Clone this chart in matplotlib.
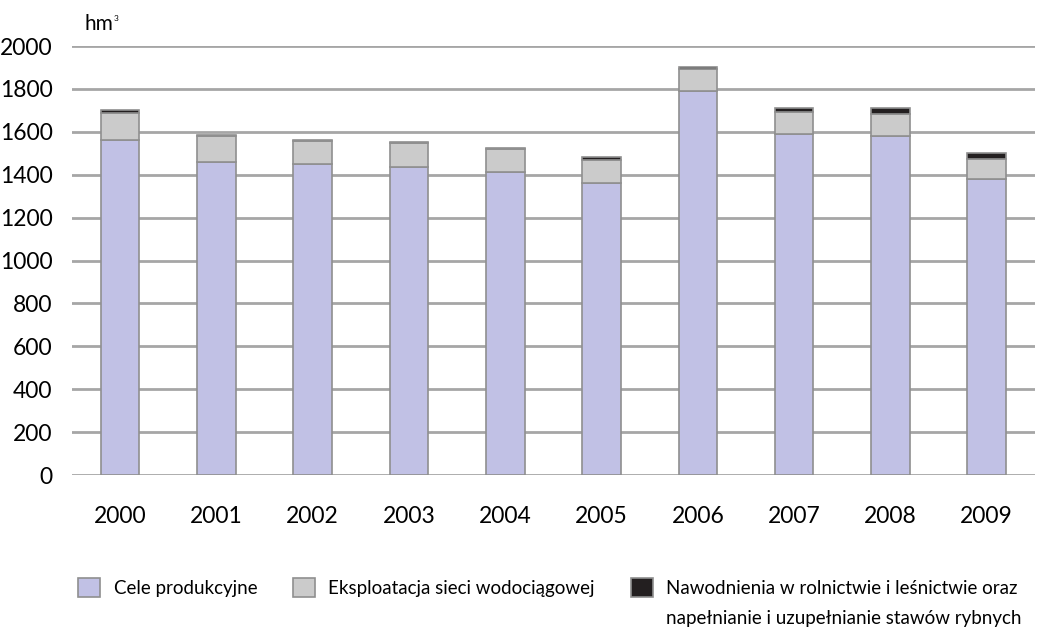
import matplotlib
matplotlib.use("Agg")
import matplotlib.pyplot as plt
import numpy as np

plt.rcParams['font.family'] = ['Lato', 'DejaVu Sans']

# hm3 per year
years = ['2000', '2001', '2002', '2003', '2004', '2005', '2006', '2007', '2008', '2009']
produkcja = [1562, 1459, 1450, 1438, 1414, 1363, 1789, 1591, 1579, 1380]
wodociagi = [124, 121, 105, 108, 104, 106, 104, 103, 106, 95]
nawodnienia = [16, 6, 7, 8, 8, 15, 10, 16, 25, 26]

labels = ['Cele produkcyjne',
          'Eksploatacja sieci wodociągowej',
          'Nawodnienia w rolnictwie i leśnictwie oraz']
label_cont = 'napełnianie i uzupełnianie stawów rybnych'
colors = ['#c1c1e5', '#cbcbcb', '#231f20']

fig = plt.figure(figsize=(10.39, 6.27), dpi=100)
ax = fig.add_axes([0.0693, 0.2424, 0.9267, 0.6842])

x = np.arange(len(years))
bottom = np.zeros(len(years))
handles = []
for vals, c, lab in zip([produkcja, wodociagi, nawodnienia], colors, labels):
    b = ax.bar(x, vals, width=0.4, bottom=bottom, color=c, edgecolor='#8f8f8f',
               linewidth=1.2, zorder=3, label=lab)
    handles.append(b)
    bottom += np.array(vals)

ax.set_xlim(-0.5, len(years) - 0.5)
ax.set_ylim(0, 2000)
ax.set_yticks(range(0, 2001, 200))
ax.set_xticks(x, years)
ax.yaxis.grid(True, color='#a6a6a6', linewidth=2, zorder=0)
ax.set_axisbelow(True)
for s in ax.spines.values():
    s.set_visible(False)
ax.tick_params(axis='both', length=0, labelsize=16.5)
ax.tick_params(axis='y', pad=14)
ax.tick_params(axis='x', pad=22)

fig.text(0.0818, 0.952, 'hm', fontsize=15, ha='left', va='baseline')
fig.text(0.1095, 0.9665, '3', fontsize=6, ha='left', va='baseline')

leg = fig.legend(handles=handles, labels=labels, loc='upper left',
                 bbox_to_anchor=(0.075, 0.078), ncol=3, frameon=False,
                 fontsize=13.5, handlelength=1.2, handleheight=1.2,
                 handletextpad=0.7, columnspacing=1.9, borderaxespad=0,
                 borderpad=0)

# second line of the last legend entry, under the first one
fig.canvas.draw()
bb = leg.get_texts()[2].get_window_extent().transformed(fig.transFigure.inverted())
fig.text(bb.x0, bb.y0 - 0.048, label_cont, fontsize=13.5, ha='left', va='bottom')

fig.savefig('out.png', dpi=100)
